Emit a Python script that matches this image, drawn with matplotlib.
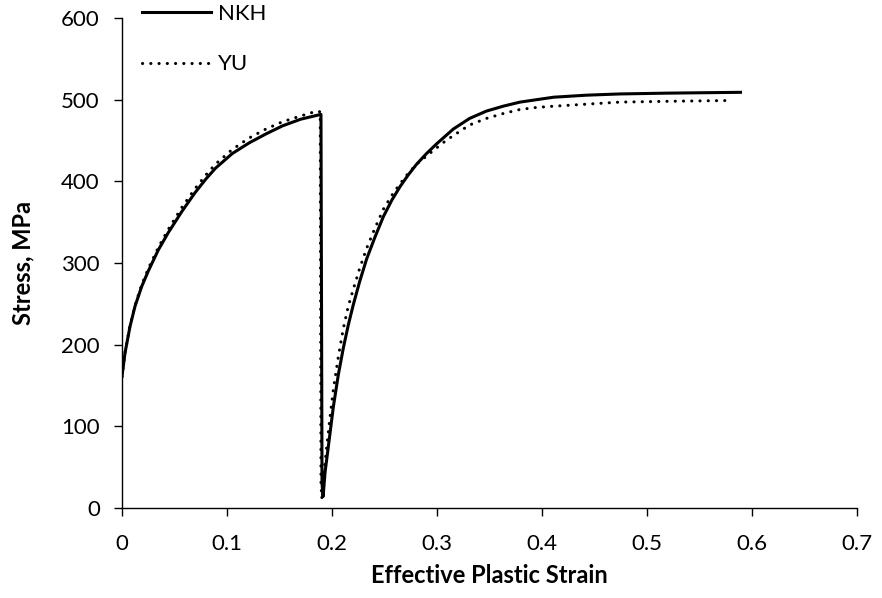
import matplotlib
matplotlib.use("Agg")
import matplotlib.pyplot as plt

plt.rcParams['font.family'] = ['Lato', 'DejaVu Sans']

# values
nkh_strain = [0, 0.0029, 0.0076, 0.0124, 0.0187, 0.025, 0.0346, 0.044, 0.057, 0.0695,
              0.080, 0.089, 0.105, 0.121, 0.137, 0.153, 0.170, 0.1895,
              0.1905, 0.1915, 0.1935, 0.1965, 0.2013, 0.206, 0.2108, 0.2155, 0.2203,
              0.2265, 0.233, 0.241, 0.249, 0.257, 0.2648, 0.2727, 0.2806, 0.29,
              0.2997, 0.3076, 0.3155, 0.331, 0.347, 0.363, 0.379, 0.395, 0.411,
              0.4425, 0.474, 0.52, 0.589]
nkh_stress = [161, 190, 222, 247, 271, 290, 316, 337, 363, 386,
              403, 416, 434, 447, 458, 468, 476, 482,
              30, 14, 45, 75, 124, 163, 196, 224, 249,
              278, 305, 332, 357, 377, 393.5, 408, 421, 434,
              446, 455, 464, 477, 486, 492, 497, 500, 503,
              505.5, 507, 508, 509]

yu_strain = [0, 0.0029, 0.0076, 0.0124, 0.0187, 0.025, 0.0346, 0.044, 0.057, 0.0695,
             0.080, 0.089, 0.105, 0.121, 0.137, 0.153, 0.170, 0.1855,
             0.1888, 0.1895, 0.1903, 0.1925, 0.195, 0.198, 0.2013, 0.206, 0.2108,
             0.2155, 0.2203, 0.2265, 0.233, 0.241, 0.249, 0.257, 0.2648, 0.2727,
             0.2806, 0.29, 0.2997, 0.3076, 0.3155, 0.331, 0.347, 0.363, 0.379,
             0.395, 0.411, 0.4425, 0.474, 0.52, 0.581]
yu_stress = [161, 190, 223, 248, 273, 293, 319, 341, 368, 391,
             408, 421, 439, 453, 464, 473, 480, 486,
             485, 30, 12, 45, 75, 110, 145, 185, 220,
             247, 268, 294, 318, 343, 366, 383, 397, 410,
             421, 431, 441, 449, 456, 469, 477, 483, 488,
             490.5, 492, 494.5, 497, 498, 499]

x_ticks = [0, 0.1, 0.2, 0.3, 0.4, 0.5, 0.6, 0.7]
x_ticklabels = ['0', '0.1', '0.2', '0.3', '0.4', '0.5', '0.6', '0.7']
y_ticks = [0, 100, 200, 300, 400, 500, 600]

fig = plt.figure(figsize=(8.82, 5.98), dpi=100)
ax = fig.add_axes([0.1383, 0.1505, 0.8334, 0.8194])

ax.plot(nkh_strain, nkh_stress, color='black', lw=2.2, solid_joinstyle='round',
        label='NKH')
ax.plot(yu_strain, yu_stress, color='black', lw=2.2, linestyle=(0, (0.05, 2.65)),
        dash_capstyle='round', label='YU')

ax.set_xlim(0, 0.7)
ax.set_ylim(0, 600)
ax.set_xticks(x_ticks)
ax.set_xticklabels(x_ticklabels)
ax.set_yticks(y_ticks)
ax.tick_params(direction='out', length=6, width=1, labelsize=16, pad=10,
               colors='black')
ax.tick_params(axis='x', pad=13)
for s in ['top', 'right']:
    ax.spines[s].set_visible(False)
for s in ['left', 'bottom']:
    ax.spines[s].set_linewidth(1.0)
    ax.spines[s].set_color('black')

ax.set_xlabel('Effective Plastic Strain', fontsize=17, fontweight='bold', labelpad=7)
ax.set_ylabel('Stress, MPa', fontsize=17, fontweight='bold', labelpad=19)

leg = ax.legend(loc='upper left', bbox_to_anchor=(0.161, 0.993), bbox_transform=fig.transFigure,
                frameon=False, fontsize=16, handlelength=3.1, labelspacing=1.36,
                handletextpad=0.3, borderaxespad=0.0, borderpad=0.0)

fig.savefig('out.png', dpi=100)
